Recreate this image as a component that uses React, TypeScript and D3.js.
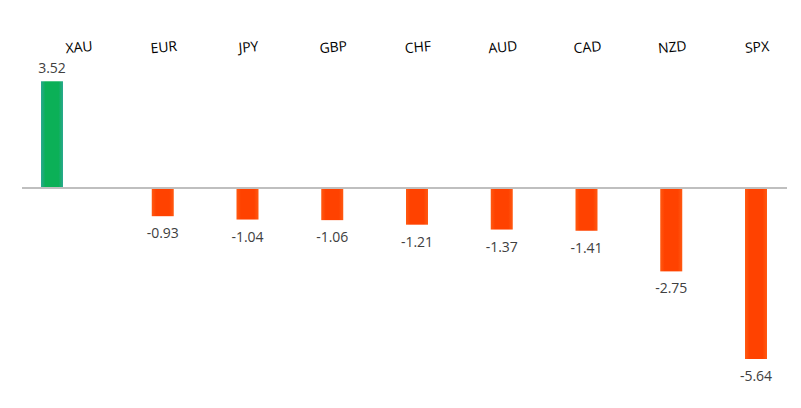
import React from "react";
import * as d3 from "d3";

const categories = ["XAU", "EUR", "JPY", "GBP", "CHF", "AUD", "CAD", "NZD", "SPX"];
const values = [3.52, -0.93, -1.04, -1.06, -1.21, -1.37, -1.41, -2.75, -5.64];

const W = 801;
const H = 408;

export default function App() {
  const slot = d3.scaleLinear().domain([0, 8]).range([79, 757]);
  const y = d3.scaleLinear().domain([0, 5.64]).range([188, 359]);
  const barW = 22;
  const barX = (i: number) => (i === 0 ? slot(i) - 27 : slot(i) - 1);
  const fmt = (v: number) => d3.format(".2f")(v).replace("\u2212", "-");
  return (
    <div style={{ margin: -8 }}>
      <svg width={W} height={H} style={{ display: "block", background: "#fff" }}>
        <defs>
          <linearGradient id="gPos" x1="0" x2="1" y1="0" y2="0">
            <stop offset="0" stopColor="#2aa890" />
            <stop offset="0.2" stopColor="#0bb057" />
            <stop offset="0.8" stopColor="#0bb057" />
            <stop offset="1" stopColor="#2aa890" />
          </linearGradient>
          <linearGradient id="gNeg" x1="0" x2="1" y1="0" y2="0">
            <stop offset="0" stopColor="#ff5a12" />
            <stop offset="0.2" stopColor="#ff4200" />
            <stop offset="0.8" stopColor="#ff4200" />
            <stop offset="1" stopColor="#ff5a12" />
          </linearGradient>
        </defs>
        {categories.map((c, i) => (
          <text
            key={"c" + c}
            x={slot(i)}
            y={52}
            transform={`rotate(-5 ${slot(i)} 47)`}
            textAnchor="middle"
            fontFamily="'Open Sans', sans-serif"
            fontSize={14}
            fill="#000"
          >
            {c}
          </text>
        ))}
        {values.map((v, i) => {
          const cx = barX(i);
          const y0 = y(0);
          const y1 = v >= 0 ? y0 - (y(v) - y0) : y(-v);
          const top = Math.min(y0, y1);
          const h = Math.abs(y1 - y0);
          return (
            <g key={"b" + i}>
              <rect
                x={cx - barW / 2}
                y={top}
                width={barW}
                height={h}
                fill={v >= 0 ? "url(#gPos)" : "url(#gNeg)"}
              />
              <text
                x={cx}
                y={v >= 0 ? top - 8 : top + h + 22}
                textAnchor="middle"
                fontFamily="'Open Sans', sans-serif"
                fontSize={14}
                fill="#404040"
              >
                {fmt(v)}
              </text>
            </g>
          );
        })}
        <line x1={22} x2={787} y1={y(0)} y2={y(0)} stroke="#bfbfbf" strokeWidth={2} />
      </svg>
    </div>
  );
}
